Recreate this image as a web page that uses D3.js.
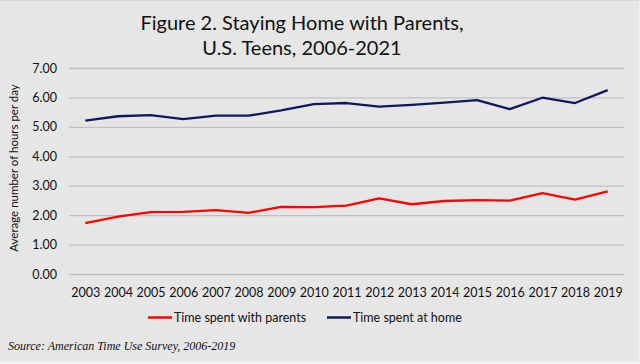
<!DOCTYPE html>
<html><head><meta charset="utf-8">
<script src="https://cdn.jsdelivr.net/npm/d3@7"></script>
<style>html,body{margin:0;padding:0;background:#f0f0f0;}</style>
</head><body>
<script>
const years = ["2003","2004","2005","2006","2007","2008","2009","2010","2011","2012","2013","2014","2015","2016","2017","2018","2019"];
const timeWithParents = [1.73,1.95,2.10,2.11,2.17,2.08,2.28,2.27,2.32,2.57,2.37,2.48,2.51,2.49,2.75,2.53,2.81];
const timeAtHome = [5.21,5.36,5.40,5.26,5.38,5.38,5.56,5.77,5.81,5.69,5.75,5.82,5.91,5.60,5.99,5.81,6.25];
const yTicks = [0,1,2,3,4,5,6,7];
const seriesNames = ["Time spent with parents","Time spent at home"];
const seriesColors = ["#ff0000","#0d1a5c"];

const W=640,H=364;
const svg=d3.select("body").append("svg").attr("width",W).attr("height",H);
svg.append("rect").attr("x",0).attr("y",0).attr("width",639).attr("height",361).attr("fill","#e6e6e6");
svg.append("line").attr("x1",0).attr("x2",639).attr("y1",0.5).attr("y2",0.5).attr("stroke","#d6d6d6");

const font="Lato, 'Open Sans', sans-serif";
const x=d3.scalePoint().domain(years).range([69,624]).padding(0.5);
const y=d3.scaleLinear().domain([0,7]).range([274,68]);

svg.append("text").attr("x",302).attr("y",30).attr("text-anchor","middle")
  .attr("font-family",font).attr("font-size",20).attr("fill","#111").text("Figure 2. Staying Home with Parents,");
svg.append("text").attr("x",302).attr("y",55).attr("text-anchor","middle")
  .attr("font-family",font).attr("font-size",20).attr("fill","#111").text("U.S. Teens, 2006-2021");

// gridlines
const yAxis=d3.axisLeft(y).tickValues(yTicks).tickSize(-(624-69)).tickFormat(d3.format(".2f"));
const gy=svg.append("g").attr("transform","translate(69,0)").call(yAxis);
gy.select(".domain").remove();
gy.selectAll(".tick line").attr("stroke","#bfbfbf").attr("stroke-width",1.3);
gy.selectAll(".tick text").attr("x",-12).attr("font-family",font).attr("font-size",12.5).attr("fill","#111");

const xAxis=d3.axisBottom(x).tickSize(0);
const gx=svg.append("g").attr("transform","translate(0,274)").call(xAxis);
gx.select(".domain").remove();
gx.selectAll(".tick text").attr("dy",0).attr("y",23).attr("font-family",font).attr("font-size",12.5).attr("fill","#111");

svg.append("text").attr("transform","translate(18,168) rotate(-90)").attr("text-anchor","middle")
  .attr("font-family",font).attr("font-size",11.5).attr("fill","#111").text("Average number of hours per day");

const line=d3.line().x((d,i)=>x(years[i])).y(d=>y(d));
[timeWithParents,timeAtHome].forEach((s,k)=>{
  svg.append("path").datum(s).attr("d",line).attr("fill","none").attr("stroke",seriesColors[k]).attr("stroke-width",2.3).attr("stroke-linejoin","round");
});

// legend
const legX=[148,327];
seriesNames.forEach((n,k)=>{
  svg.append("line").attr("x1",legX[k]).attr("x2",legX[k]+24).attr("y1",317.5).attr("y2",317.5).attr("stroke",seriesColors[k]).attr("stroke-width",2.5);
  svg.append("text").attr("x",legX[k]+26).attr("y",322).attr("font-family",font).attr("font-size",12.5).attr("fill","#111").text(n);
});

svg.append("text").attr("x",8).attr("y",350).attr("font-family","'Liberation Serif', 'Times New Roman', serif").attr("font-style","italic")
  .attr("font-size",12).attr("fill","#111").text("Source: American Time Use Survey, 2006-2019");
</script>
</body></html>
